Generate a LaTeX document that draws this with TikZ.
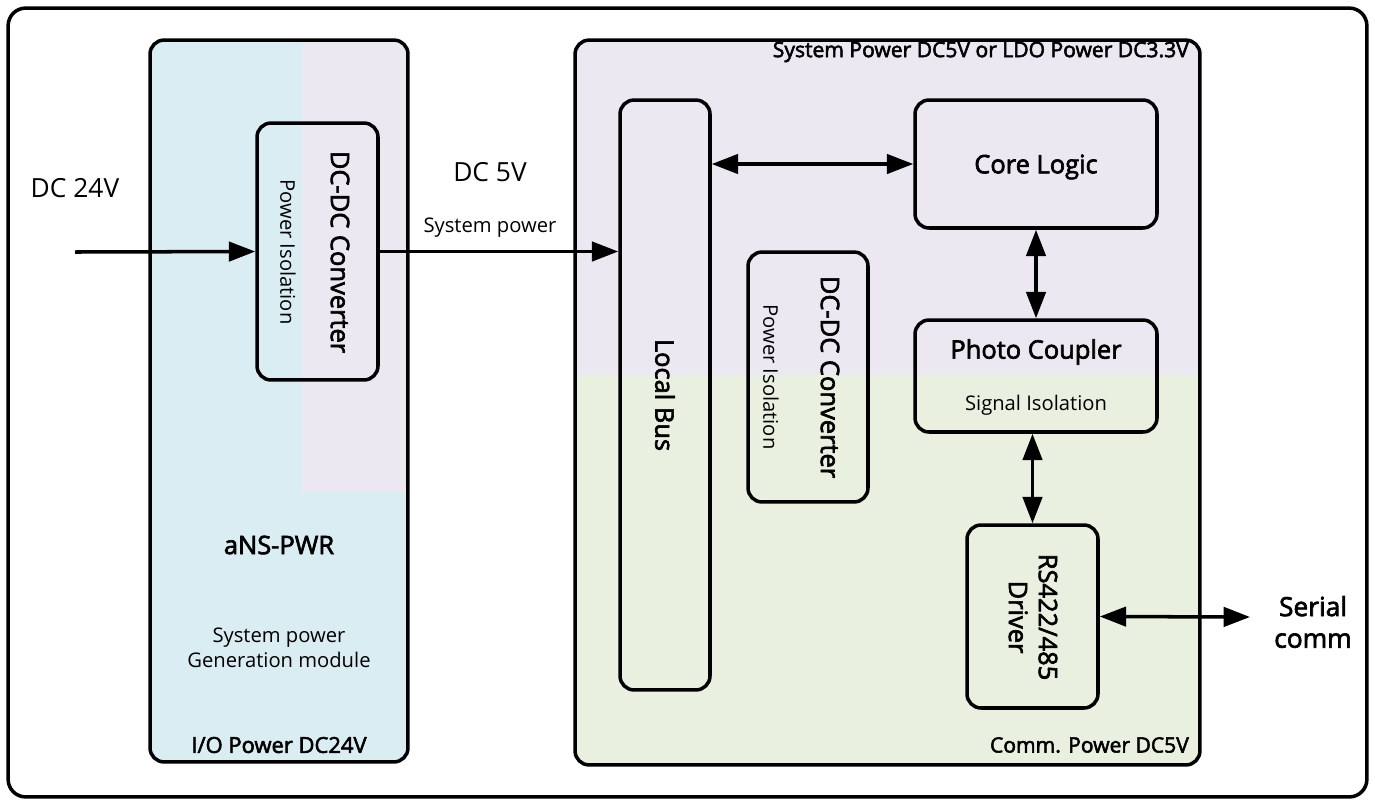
\documentclass[tikz,border=0pt]{standalone}
\usepackage{fontspec}
\setmainfont{Open Sans}
\newfontfamily\medfont{Open Sans}[FakeBold=2.5]
\usetikzlibrary{positioning, arrows.meta}
\definecolor{ioblue}{HTML}{DAEDF3}
\definecolor{syslav}{HTML}{EBE8F1}
\definecolor{commgreen}{HTML}{E9F0DF}
\newcommand{\bigtxt}{\fontsize{15}{18}\selectfont}
\newcommand{\midtxt}{\fontsize{14.5}{17}\selectfont\medfont}
\newcommand{\smalltxt}{\fontsize{11.5}{14}\selectfont}

\begin{document}
\begin{tikzpicture}
    [
        x=0.02cm, y=-0.02cm,
        box/.style={draw=black, line width=2pt, rounded corners=8pt, inner sep=0pt},
        link/.style={line width=2pt, -{Triangle[length=15pt, width=11pt]}},
        duplex/.style={line width=2pt, {Triangle[length=15pt, width=11pt]}-{Triangle[length=15pt, width=11pt]}},
        vtext/.style={rotate=-90, inner sep=0pt, align=center},
    ]
  \useasboundingbox (0,0) rectangle (1375,806);

  % coloured power domains
  \begin{scope}
    \clip[rounded corners=8pt] (150,40) rectangle (408,762);
    \fill[ioblue] (150,40) rectangle (408,762);
    \fill[syslav] (302,40) rectangle (408,492);
  \end{scope}
  \begin{scope}
    \clip[rounded corners=8pt] (575,40) rectangle (1200,765);
    \fill[syslav] (575,40) rectangle (1200,375);
    \fill[commgreen] (575,375) rectangle (1200,765);
  \end{scope}

  % boxes
  \node[box, rounded corners=10pt, minimum width=27.18cm, minimum height=15.78cm] (frame) at (687.5,402.5) {};
  \node[box, minimum width=5.16cm, minimum height=14.44cm] (pwr) at (279,401) {};
  \node[box, minimum width=2.42cm, minimum height=5.14cm] (dcdc1) at (317.5,251.5) {};
  \node[box, minimum width=12.5cm, minimum height=14.5cm] (sys) at (887.5,402.5) {};
  \node[box, minimum width=1.8cm, minimum height=11.8cm] (bus) at (665,395) {};
  \node[box, minimum width=4.84cm, minimum height=2.56cm] (core) at (1036,164) {};
  \node[box, minimum width=4.84cm, minimum height=2.24cm] (photo) at (1036,376) {};
  \node[box, minimum width=2.4cm, minimum height=5.0cm] (dcdc2) at (808,377) {};
  \node[box, minimum width=2.62cm, minimum height=3.66cm] (drv) at (1032.5,616.5) {};

  % texts
  \node[font=\bigtxt] (in24lbl) at (75,188) {DC 24V};
  \node[font=\bigtxt] (out5lbl) at (490,172) {DC 5V};
  \node[font=\smalltxt] (out5sub) at (490,228) {System power};
  \node[vtext, font=\midtxt] (dcdc1t) at (340,252) {DC-DC Converter};
  \node[vtext, font=\smalltxt] (dcdc1s) at (288,252) {Power Isolation};
  \node[font=\midtxt] (pwrname) at (279,545) {aNS-PWR};
  \node[align=center, font=\smalltxt] (pwrdesc) at (279,648) {System power\\Generation module};
  \node[font=\fontsize{12.5}{15}\selectfont\medfont] (pwrdom) at (279,745) {I/O Power DC24V};
  \node[anchor=east, font=\fontsize{12}{14}\selectfont\medfont] (sysdom) at (1195,52) {System Power DC5V or LDO Power DC3.3V};
  \node[anchor=east, font=\fontsize{12}{14}\selectfont\medfont] (commdom) at (1195,745) {Comm. Power DC5V};
  \node[vtext, font=\midtxt] (bust) at (665,395) {Local Bus};
  \node[font=\midtxt] (coret) at (1036,167) {Core Logic};
  \node[font=\midtxt] (photot) at (1036,352) {Photo Coupler};
  \node[font=\smalltxt] (photos) at (1036,405) {Signal Isolation};
  \node[vtext, font=\midtxt] (dcdc2t) at (830,377) {DC-DC Converter};
  \node[vtext, font=\smalltxt] (dcdc2s) at (771,377) {Power Isolation};
  \node[vtext, font=\midtxt] (drvt) at (1033,617) {RS422/485\\Driver};
  \node[align=center, font=\bigtxt\medfont] (serlbl) at (1313,622) {Serial\\comm};

  % connectors
  \coordinate (in24) at (75,252);
  \coordinate (ser) at (1250,617);
  \draw[link] (in24) -- (dcdc1.west);
  \draw[link] (dcdc1.east) -- (dcdc1.east -| bus.west);
  \draw[duplex] (bus.east |- core.west) -- (core.west);
  \draw[duplex] (core.south) -- (photo.north);
  \draw[duplex] (drv.north |- photo.south) -- (drv.north);
  \draw[duplex] (drv.east) -- (ser);
\end{tikzpicture}
\end{document}
